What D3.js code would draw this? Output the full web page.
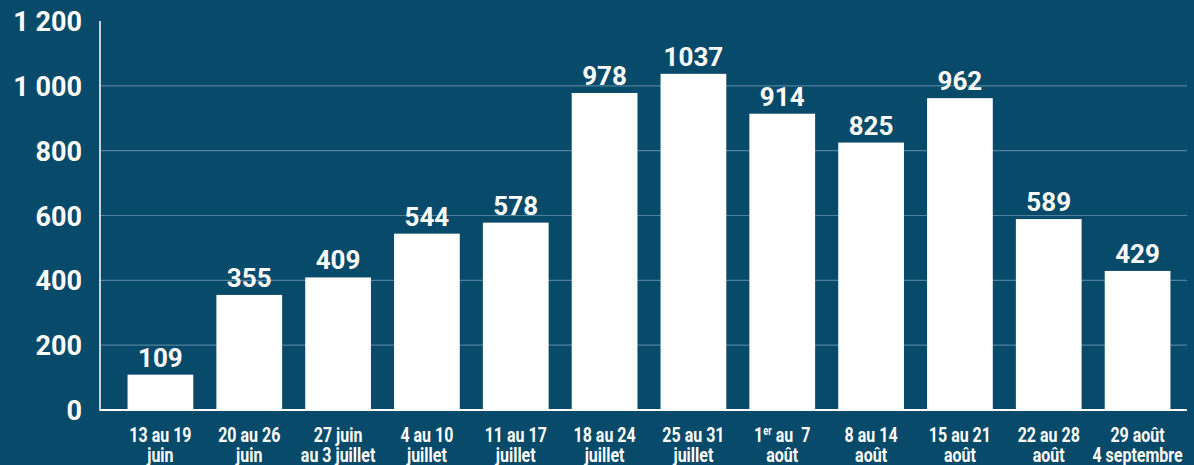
<!DOCTYPE html>
<html>
<head>
<meta charset="utf-8">
<script src="https://cdn.jsdelivr.net/npm/d3@7"></script>
<style>
  html, body { margin: 0; padding: 0; background: #084a69; }
  svg { display: block; }
  text { font-family: Roboto, "DejaVu Sans", sans-serif; font-weight: 700; fill: #fff; }
</style>
</head>
<body>
<div id="chart"></div>
<script>
// --- Données ---
const weeks = [
  ["13 au 19", "juin"],
  ["20 au 26", "juin"],
  ["27 juin", "au 3 juillet"],
  ["4 au 10", "juillet"],
  ["11 au 17", "juillet"],
  ["18 au 24", "juillet"],
  ["25 au 31", "juillet"],
  ["1er au 7", "août"],
  ["8 au 14", "août"],
  ["15 au 21", "août"],
  ["22 au 28", "août"],
  ["29 août", "4 septembre"]
];
const values = [109, 355, 409, 544, 578, 978, 1037, 914, 825, 962, 589, 429];
const yTicks = [0, 200, 400, 600, 800, 1000, 1200];

// --- Configuration ---
const W = 1194, H = 465;
const x0 = 100, x1 = 1187, yBase = 410, yTop = 21;

const svg = d3.select("#chart").append("svg")
  .attr("width", W).attr("height", H);

svg.append("rect").attr("width", W).attr("height", H).attr("fill", "#084a69");

const x = d3.scaleBand()
  .domain(d3.range(values.length))
  .range([116, 1182])
  .paddingInner(0.26)
  .paddingOuter(0.13);

const y = d3.scaleLinear().domain([0, 1200]).range([yBase, yTop]);

// Grille
svg.append("g")
  .selectAll("line")
  .data(yTicks.filter(d => d > 0 && d < 1200))
  .join("line")
  .attr("x1", x0).attr("x2", x1)
  .attr("y1", d => y(d)).attr("y2", d => y(d))
  .attr("stroke", "#4d819c").attr("stroke-width", 1.2);

// Barres
svg.append("g")
  .selectAll("rect")
  .data(values)
  .join("rect")
  .attr("x", (d, i) => x(i))
  .attr("width", x.bandwidth())
  .attr("y", d => y(d))
  .attr("height", d => yBase - y(d))
  .attr("fill", "#fff");

// Axes
svg.append("line").attr("x1", x0).attr("x2", x0).attr("y1", yTop).attr("y2", yBase + 1)
  .attr("stroke", "#fff").attr("stroke-width", 1.5);
svg.append("line").attr("x1", x0).attr("x2", x1).attr("y1", yBase).attr("y2", yBase)
  .attr("stroke", "#fff").attr("stroke-width", 2);

// Labels axe Y
svg.append("g")
  .selectAll("text")
  .data(yTicks)
  .join("text")
  .attr("x", 82)
  .attr("y", d => y(d) + 10)
  .attr("text-anchor", "end")
  .style("font-size", "27px")
  .text(d => d3.format(",")(d).replace(",", " "));

// Valeurs
svg.append("g")
  .selectAll("text")
  .data(values)
  .join("text")
  .attr("x", (d, i) => x(i) + x.bandwidth() / 2)
  .attr("y", d => y(d) - 8)
  .attr("text-anchor", "middle")
  .style("font-size", "26px")
  .text(d => d);

// Labels axe X (condensés)
const sx = 0.78;
const xl = svg.append("g").attr("transform", `scale(${sx},1)`);
weeks.forEach((w, i) => {
  const cx = (x(i) + x.bandwidth() / 2) / sx;
  const t = xl.append("text")
    .attr("text-anchor", "middle")
    .style("font-size", "20.5px");
  if (w[0].startsWith("1er")) {
    const l1 = t.append("tspan").attr("x", cx).attr("y", 442);
    l1.append("tspan").text("1");
    l1.append("tspan").attr("dy", -7).style("font-size", "12px").text("er");
    l1.append("tspan").attr("dy", 7).text("\u00a0au\u00a0\u00a07");
  } else {
    t.append("tspan").attr("x", cx).attr("y", 442).text(w[0]);
  }
  t.append("tspan").attr("x", cx).attr("y", 462).text(w[1]);
});
</script>
</body>
</html>
